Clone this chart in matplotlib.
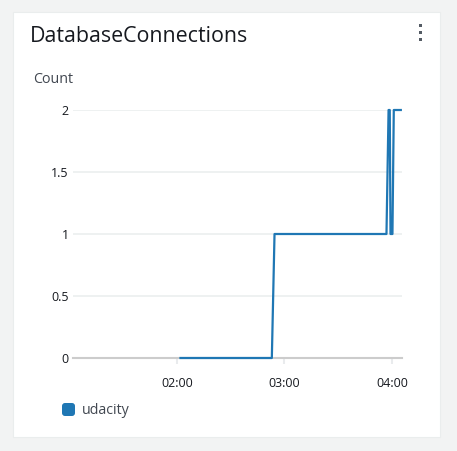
import matplotlib
matplotlib.use("Agg")
import matplotlib.pyplot as plt
import matplotlib.dates as mdates
from matplotlib.patches import Rectangle, FancyBboxPatch
import pandas as pd

# ---- data ----
title = "DatabaseConnections"
y_label = "Count"
series_name = "udacity"
times = ["02:02:00", "02:53:00", "02:54:30", "03:57:00", "03:58:10",
         "03:58:50", "03:59:15", "04:00:20", "04:01:05", "04:05:00"]
values = [0, 0, 1, 1, 2, 2, 1, 1, 2, 2]
y_ticks = [0, 0.5, 1, 1.5, 2]
y_tick_labels = ["0", "0.5", "1", "1.5", "2"]
x_ticks = ["02:00", "03:00", "04:00"]
x_range = ["01:02:00", "04:05:40"]

day = "2024-01-01 "
t = pd.to_datetime([day + s for s in times])
xt = pd.to_datetime([day + s for s in x_ticks])
xr = pd.to_datetime([day + s for s in x_range])

W, H = 457, 451
fig = plt.figure(figsize=(W / 100, H / 100), dpi=100)
fig.patch.set_facecolor("#f2f3f3")
plt.rcParams["font.family"] = ["Open Sans", "DejaVu Sans"]

# card (background axes)
bg = fig.add_axes([0, 0, 1, 1], zorder=-5)
bg.set_xlim(0, W)
bg.set_ylim(H, 0)
bg.axis("off")
bg.add_patch(Rectangle((13, 12), 427, 425, facecolor="white",
                       edgecolor="#eaeded", lw=0.8))
for yy in (25.5, 32.7, 39.5):
    bg.add_patch(Rectangle((419.2, yy - 1.6), 3.2, 3.2, facecolor="#545b64",
                           edgecolor="none"))
bg.add_patch(FancyBboxPatch((62, 403), 13, 13,
                            boxstyle="round,pad=0,rounding_size=3",
                            facecolor="#1f77b4", edgecolor="none"))

fig.text(30 / W, 1 - 37 / H, title, fontsize=15.4, color="#16191f",
         va="center", ha="left")
fig.text(33 / W, 1 - 79.5 / H, y_label, fontsize=10.3, color="#414750",
         va="center", ha="left")
fig.text(82 / W, 1 - 411 / H, series_name, fontsize=10.3, color="#414750",
         va="center", ha="left")

ax = fig.add_axes([73 / W, (H - 358) / H, 329 / W, 248 / H], zorder=1)
ax.set_facecolor("white")
ax.plot(t, values, color="#1f77b4", lw=1.6, clip_on=False, zorder=3)
ax.set_ylim(0, 2)
ax.set_xlim(xr[0], xr[1])
ax.set_yticks(y_ticks)
ax.set_yticklabels(y_tick_labels)
ax.set_xticks(xt)
ax.xaxis.set_major_formatter(mdates.DateFormatter("%H:%M"))
for s in ("top", "right", "left"):
    ax.spines[s].set_visible(False)
ax.spines["bottom"].set_color("#cccccc")
ax.spines["bottom"].set_linewidth(1.5)
ax.spines["bottom"].set_zorder(2)
ax.yaxis.grid(True, color="#eaeded", lw=1.1)
ax.set_axisbelow(True)
ax.tick_params(axis="y", length=0, pad=3, labelsize=9, labelcolor="#16191f")
ax.tick_params(axis="x", length=4, width=1.5, color="#e9ebed", pad=9.5,
               labelsize=9, labelcolor="#16191f")

fig.savefig("out.png", dpi=100, facecolor=fig.get_facecolor())
